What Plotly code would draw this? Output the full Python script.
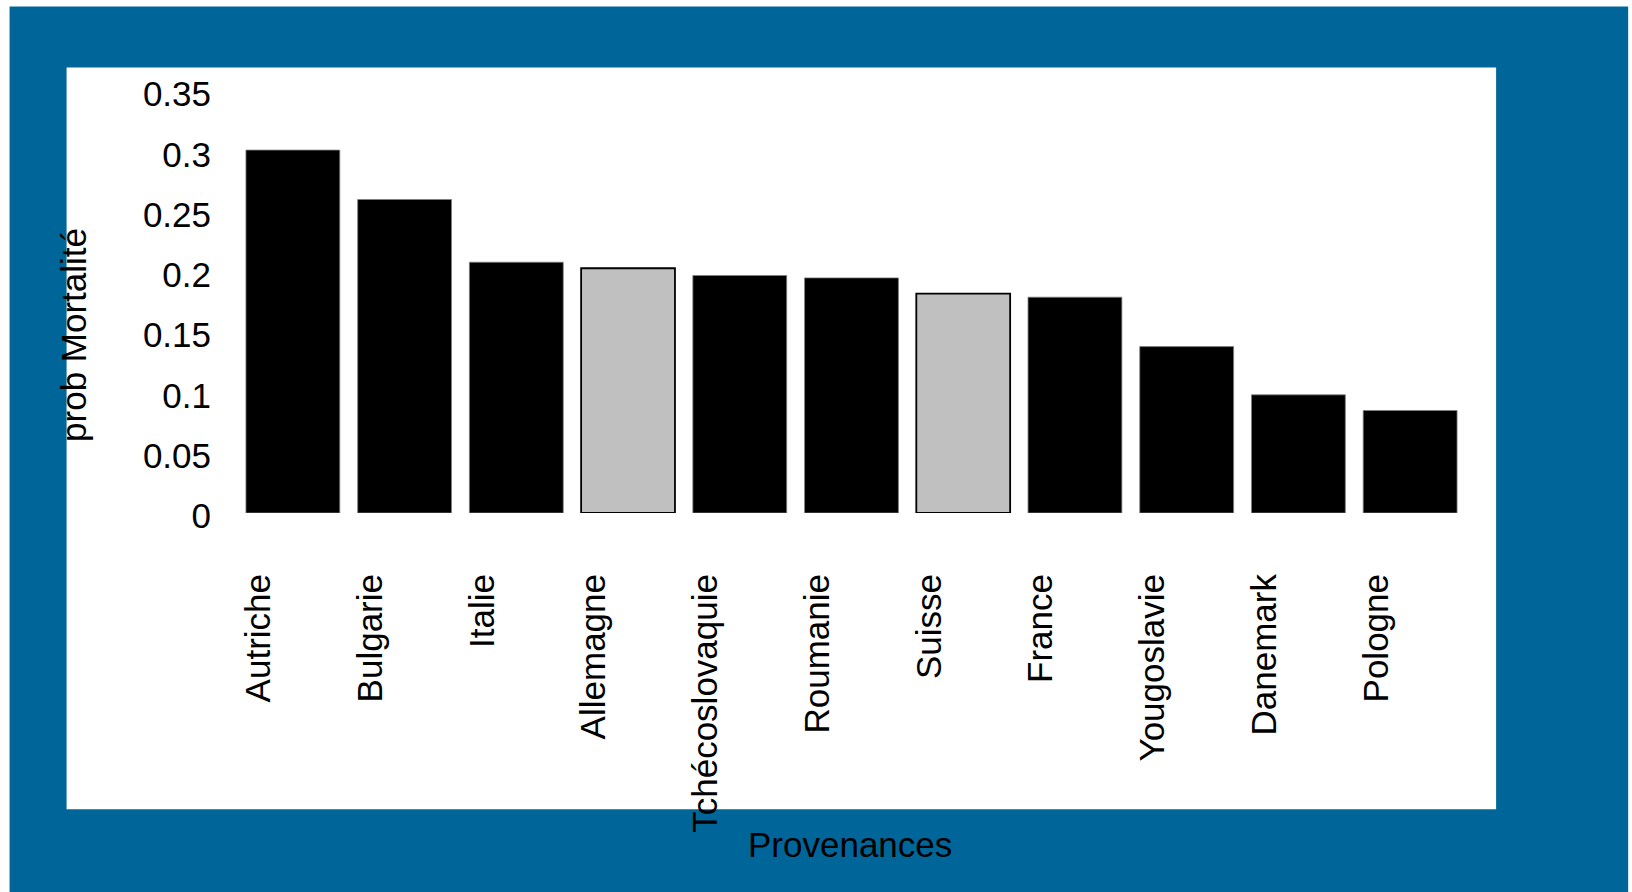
import plotly.graph_objects as go

# data
provenances = ['Autriche', 'Bulgarie', 'Italie', 'Allemagne', 'Tchécoslovaquie', 'Roumanie',
               'Suisse', 'France', 'Yougoslavie', 'Danemark', 'Pologne']
prob_mortalite = [0.301, 0.260, 0.208, 0.203, 0.197, 0.195, 0.182, 0.179, 0.138, 0.098, 0.085]
surlignes = ['Allemagne', 'Suisse']

y_ticks = [0, 0.05, 0.1, 0.15, 0.2, 0.25, 0.3, 0.35]
y_tick_text = ['0', '0.05', '0.1', '0.15', '0.2', '0.25', '0.3', '0.35']

W, H = 1632, 892
L, R, T, B = 237.35, 1632 - 1465.9, 90.6, 892 - 512.7
blue = '#006699'
police = 'Liberation Sans, Arial, sans-serif'


def px_x(x):
    return (x - L) / (W - L - R)


def px_y(y):
    return (H - B - y) / (H - T - B)


couleurs = ['#c0c0c0' if p in surlignes else 'black' for p in provenances]
bords = ['black' if p in surlignes else '#7f7f7f' for p in provenances]
largeurs = [1.8 if p in surlignes else 0.8 for p in provenances]

fig = go.Figure()
fig.add_trace(go.Bar(
    x=provenances, y=prob_mortalite,
    marker=dict(color=couleurs, line=dict(color=bords, width=largeurs)),
    showlegend=False, hoverinfo='x+y'))

# cadre bleu + zone blanche
fig.add_shape(type='rect', xref='paper', yref='paper', layer='below',
              x0=px_x(10), x1=px_x(1628), y0=px_y(900), y1=px_y(6),
              fillcolor=blue, line=dict(width=0))
fig.add_shape(type='rect', xref='paper', yref='paper', layer='below',
              x0=px_x(67), x1=px_x(1496), y0=px_y(809), y1=px_y(67),
              fillcolor='white', line=dict(width=0))

fig.add_annotation(text='prob Mortalité', xref='paper', yref='paper',
                   x=px_x(74), y=px_y(335), xanchor='center', yanchor='middle',
                   textangle=-90, showarrow=False, font=dict(size=35, color='black', family=police))
fig.add_annotation(text='Provenances', xref='paper', yref='paper',
                   x=px_x(850), y=px_y(844), xanchor='center', yanchor='middle',
                   showarrow=False, font=dict(size=35, color='black', family=police))

fig.update_xaxes(range=[-0.5, 10.5], showgrid=False, zeroline=False, showline=False,
                 tickangle=-90, ticklabelstandoff=53, ticklabelshift=-34,
                 tickfont=dict(size=35, color='black', family=police))
fig.update_yaxes(range=[0, 0.35], tickvals=y_ticks, ticktext=y_tick_text,
                 showgrid=False, zeroline=False, showline=False,
                 ticklabelstandoff=25, ticklabelshift=3,
                 tickfont=dict(size=35, color='black', family=police))

fig.update_layout(
    width=W, height=H,
    margin=dict(l=L, r=R, t=T, b=B, autoexpand=False),
    paper_bgcolor='white',
    plot_bgcolor='rgba(0,0,0,0)',
    bargap=0.16,
    font=dict(family=police, color='black'),
)

fig.write_html('out.html', config={'displayModeBar': False},
               post_script="document.body.style.margin='0';")
